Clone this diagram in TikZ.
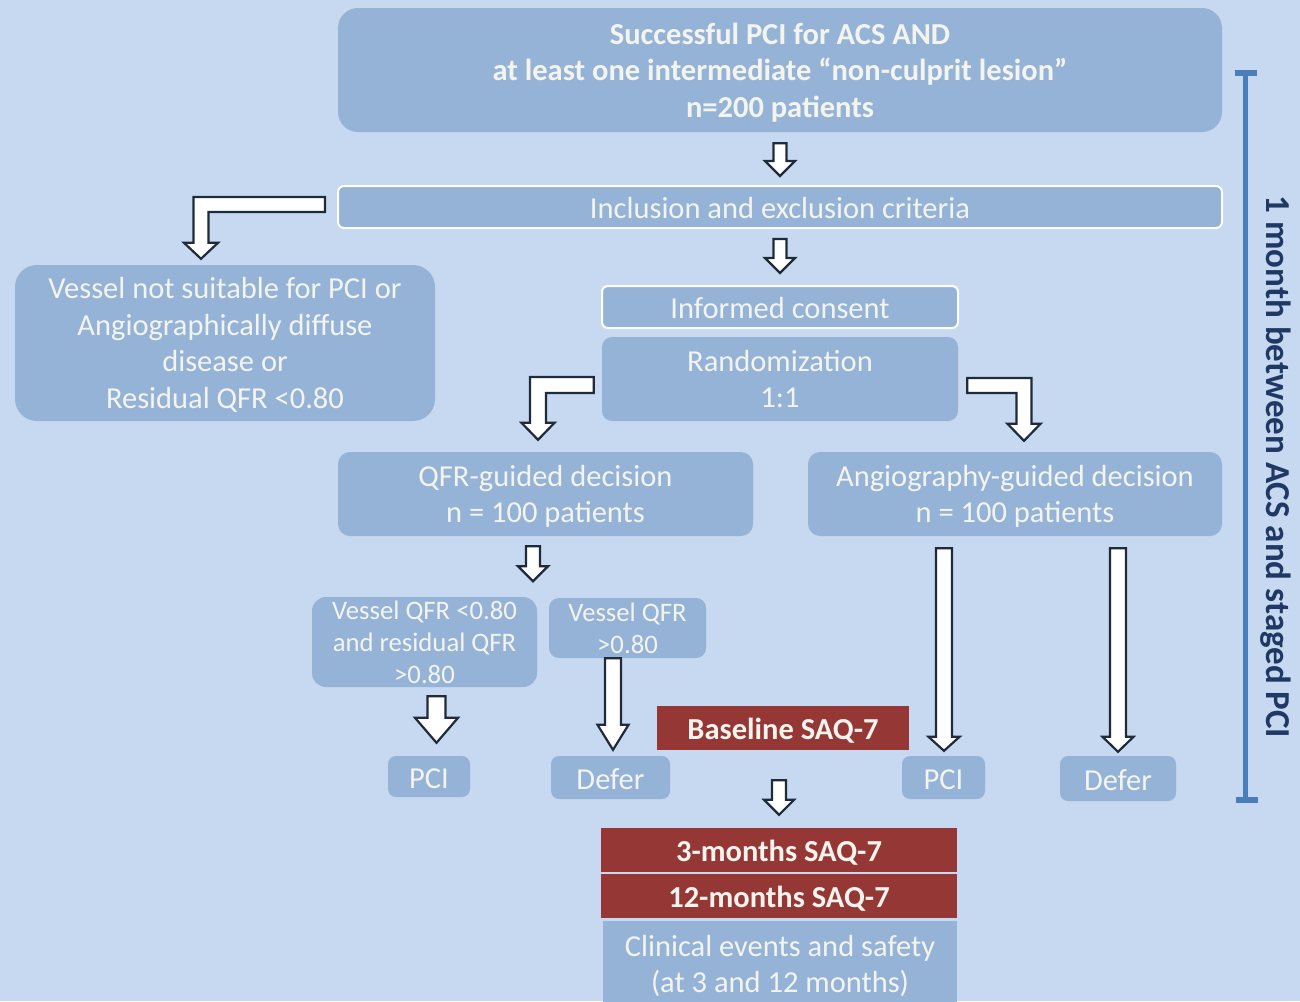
\documentclass[tikz,border=0pt]{standalone}
\usepackage{fontspec}
\setmainfont{Carlito}
\usetikzlibrary{calc}

\definecolor{bg}{HTML}{C6D9F0}
\definecolor{boxblue}{HTML}{95B3D7}
\definecolor{txtw}{HTML}{F4F4EE}
\definecolor{darkred}{HTML}{953735}
\definecolor{arrowline}{HTML}{1F2A3A}
\definecolor{bracketblue}{HTML}{4A7EBB}
\definecolor{navy}{HTML}{1F3864}

\newcommand\fsz[2]{\fontsize{#1}{#2}\selectfont}

% straight block arrow pointing down: start, end, shaft half width, head half width, head length
\newcommand\downblk[5]{%
  \draw[blk] let \p1=(#1), \p2=(#2) in
    (\x1-#3pt,\y1) -- (\x1+#3pt,\y1) -- (\x1+#3pt,\y2+#5pt) -- (\x1+#4pt,\y2+#5pt)
    -- (\x1,\y2) -- (\x1-#4pt,\y2+#5pt) -- (\x1-#3pt,\y2+#5pt) -- cycle;}
% bent block arrow going left then down
\newcommand\leftdownblk[5]{%
  \draw[blk] let \p1=(#1), \p2=(#2) in
    (\x1,\y1+#3pt) -- (\x2-#3pt,\y1+#3pt) -- (\x2-#3pt,\y2+#5pt) -- (\x2-#4pt,\y2+#5pt)
    -- (\x2,\y2) -- (\x2+#4pt,\y2+#5pt) -- (\x2+#3pt,\y2+#5pt) -- (\x2+#3pt,\y1-#3pt)
    -- (\x1,\y1-#3pt) -- cycle;}
% bent block arrow going right then down
\newcommand\rightdownblk[5]{%
  \draw[blk] let \p1=(#1), \p2=(#2) in
    (\x1,\y1+#3pt) -- (\x2+#3pt,\y1+#3pt) -- (\x2+#3pt,\y2+#5pt) -- (\x2+#4pt,\y2+#5pt)
    -- (\x2,\y2) -- (\x2-#4pt,\y2+#5pt) -- (\x2-#3pt,\y2+#5pt) -- (\x2-#3pt,\y1-#3pt)
    -- (\x1,\y1-#3pt) -- cycle;}

\tikzset{
  struts/.style={text depth=0pt, execute at begin node={\rule{0pt}{0.76em}}},
  box/.style={fill=boxblue, text=txtw, align=center, inner sep=0pt,
    rounded corners=#1, font=\fsz{30.5}{36.5}, struts},
  box/.default=12pt,
  framed/.style={box=6pt, draw=white, line width=2pt},
  redbox/.style={fill=darkred, text=txtw, align=center, inner sep=0pt,
    font=\bfseries\fsz{30.5}{34}, struts},
  wh/.style 2 args={minimum width=#1, minimum height=#2},
  blk/.style={draw=arrowline, fill=white, line width=2.2pt, line join=miter},
  span/.style={draw=bracketblue, line width=5pt},
}

\begin{document}
\begin{tikzpicture}[x=1pt, y=-1pt]
\useasboundingbox (0,0) rectangle (1300,1001);
\clip (0,0) rectangle (1300,1001);
\fill[bg] (0,0) rectangle (1300,1001);

% boxes
\node[box=20pt, wh={884pt}{124pt}, font=\bfseries\fsz{30.5}{36.5}] (top) at (780,70)
  {Successful PCI for ACS AND\\at least one intermediate “non-culprit lesion”\\n=200 patients};
\node[framed, wh={884pt}{42pt}] (incl) at (780,207) {Inclusion and exclusion criteria};
\node[box=22pt, wh={420pt}{156pt}] (vessel) at (225,343)
  {Vessel not suitable for PCI or\\Angiographically diffuse\\disease or\\Residual QFR <0.80};
\node[framed, wh={356pt}{42pt}] (consent) at (780,307) {Informed consent};
\node[box=10pt, wh={356pt}{84pt}] (rand) at (780,379) {Randomization\\1:1};
\node[box=12pt, wh={415pt}{84pt}] (qfr) at (545.5,494) {QFR-guided decision\\n = 100 patients};
\node[box=12pt, wh={414pt}{84pt}] (angio) at (1015,494) {Angiography-guided decision\\n = 100 patients};
\node[box=14pt, wh={225pt}{90pt}, font=\fsz{26.7}{32}] (vqlo) at (424.5,642)
  {Vessel QFR <0.80\\and residual QFR\\>0.80};
\node[box=10pt, wh={157pt}{60pt}, font=\fsz{26.7}{32}] (vqhi) at (627.5,628)
  {Vessel QFR\\>0.80};
\node[redbox, wh={252pt}{44pt}] (base) at (783,728) {Baseline SAQ-7};
\node[box=8pt, wh={82pt}{41pt}] (pciL) at (429,776.5) {PCI};
\node[box=8pt, wh={119pt}{43pt}] (deferL) at (610.5,777.5) {Defer};
\node[box=8pt, wh={83pt}{43pt}] (pciR) at (943.5,777.5) {PCI};
\node[box=8pt, wh={116pt}{45pt}] (deferR) at (1118,778.5) {Defer};
\node[redbox, wh={356pt}{44pt}] (m3) at (779,850) {3-months SAQ-7};
\node[redbox, wh={356pt}{44pt}] (m12) at (779,896) {12-months SAQ-7};
\node[box=0pt, wh={354pt}{86pt}] (clin) at (780,964)
  {Clinical events and safety\\(at 3 and 12 months)};

% block arrows
\downblk{[yshift=-11pt]top.south}{[yshift=9pt]incl.north}{6.5}{15}{15}
\downblk{[yshift=-10pt]incl.south}{[yshift=12pt]consent.north}{6.5}{15}{15}
\leftdownblk{[xshift=-12pt,yshift=2.5pt]incl.west}{[xshift=-24pt,yshift=6pt]vessel.north}{7.5}{17}{16}
\leftdownblk{[xshift=-8pt,yshift=-6pt]rand.west}{[xshift=-7.5pt,yshift=12pt]qfr.north}{8}{16.5}{17}
\rightdownblk{[xshift=9pt,yshift=-6.5pt]rand.east}{[xshift=9pt,yshift=11pt]angio.north}{7.5}{16.5}{17}
\coordinate (qsplit) at ([xshift=-12.5pt,yshift=-45pt]qfr.south);
\downblk{[xshift=-12.5pt,yshift=-10pt]qfr.south}{qsplit}{7}{15}{15}
\downblk{[xshift=12pt,yshift=-9pt]vqlo.south}{[yshift=13pt]pciL.north}{9}{21.5}{25}
\downblk{[xshift=-14.5pt]vqhi.south}{[yshift=6pt]deferL.north}{8}{15.5}{25}
\downblk{[xshift=-71pt,yshift=-12pt]angio.south}{[yshift=5pt]pciR.north}{8}{15.5}{14}
\downblk{[xshift=103pt,yshift=-12pt]angio.south}{[yshift=4pt]deferR.north}{8}{15.5}{15}
\downblk{[xshift=-4pt,yshift=-30pt]base.south}{[yshift=13pt]m3.north}{7}{15}{15}

% time span bracket
\coordinate (brtop) at (1245.5,73);
\coordinate (brbot) at (1245.5,800);
\draw[span] (brtop) -- (brbot);
\draw[span, line width=6pt] ([xshift=-11pt]brtop) -- ([xshift=11pt]brtop);
\draw[span, line width=6pt] ([xshift=-10pt]brbot) -- ([xshift=12pt]brbot);
\node[rotate=-90, text=navy, font=\bfseries\fsz{35}{36}] (spanlabel) at (1276,467)
  {1 month between ACS and staged PCI};
\end{tikzpicture}
\end{document}
